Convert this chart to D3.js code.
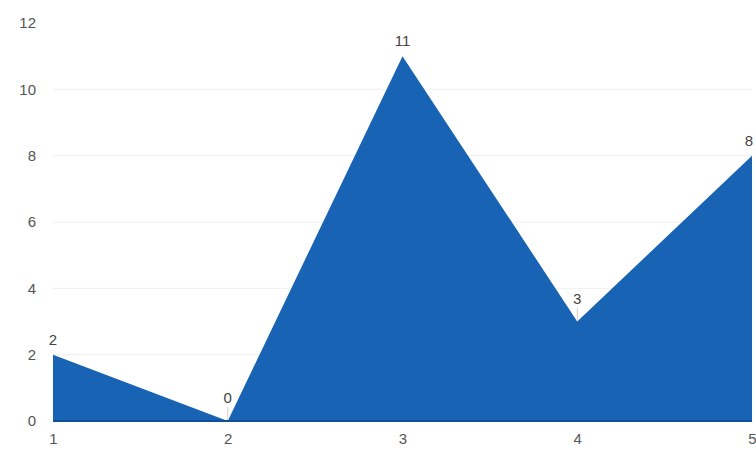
<!DOCTYPE html>
<html>
<head>
<meta charset="utf-8">
<script src="https://cdn.jsdelivr.net/npm/d3@7"></script>
<style>
  html, body { margin: 0; padding: 0; background: #fff; }
  svg { display: block; }
  text { font-family: "Liberation Sans", Arial, sans-serif; }
</style>
</head>
<body>
<svg id="chart" width="756" height="450"></svg>
<script>
// Category labels along the x axis
const categories = ["1", "2", "3", "4", "5"];
// Series values plotted as a filled area
const values = [2, 0, 11, 3, 8];
// Y axis tick values
const yTicks = [0, 2, 4, 6, 8, 10, 12];

const svg = d3.select("#chart");
const W = 756, H = 450;
const margin = { left: 53, right: 4, top: 23, bottom: 29 };

const x = d3.scalePoint()
  .domain(categories)
  .range([margin.left, W - margin.right]);

const y = d3.scaleLinear()
  .domain([0, 12])
  .range([H - margin.bottom, margin.top]);

// Faint horizontal gridlines
svg.append("g")
  .selectAll("line")
  .data(yTicks.filter(d => d > 0 && d < 12))
  .join("line")
  .attr("x1", margin.left)
  .attr("x2", W - margin.right)
  .attr("y1", d => y(d))
  .attr("y2", d => y(d))
  .attr("stroke", "#eeeeee")
  .attr("stroke-width", 1);

// Y axis labels (no axis line)
const yAxis = d3.axisLeft(y).tickValues(yTicks).tickSize(0).tickPadding(17);
svg.append("g")
  .attr("transform", `translate(${margin.left},0)`)
  .call(yAxis)
  .call(g => g.select(".domain").remove())
  .call(g => g.selectAll("text")
    .attr("fill", "#555")
    .attr("font-size", 15)
    .style("font-family", "'Liberation Sans', Arial, sans-serif"));

// X axis labels
const xAxis = d3.axisBottom(x).tickSize(0).tickPadding(12);
svg.append("g")
  .attr("transform", `translate(0,${y(0)})`)
  .call(xAxis)
  .call(g => g.select(".domain").remove())
  .call(g => g.selectAll("text")
    .attr("fill", "#555")
    .attr("font-size", 15)
    .style("font-family", "'Liberation Sans', Arial, sans-serif"));

const pts = categories.map((c, i) => ({ c, v: values[i], i }));

// Filled area
const area = d3.area()
  .x(d => x(d.c))
  .y0(y(0))
  .y1(d => y(d.v));

svg.append("path")
  .datum(pts)
  .attr("d", area)
  .attr("fill", "#1863b4");

// Darker baseline along zero
svg.append("line")
  .attr("x1", x(categories[0]))
  .attr("x2", x(categories[categories.length - 1]))
  .attr("y1", y(0))
  .attr("y2", y(0))
  .attr("stroke", "#0f4f9c")
  .attr("stroke-width", 2);

// Leader ticks for labels sitting in valleys
const isValley = d => (d.i > 0 && d.i < values.length - 1 &&
  d.v < values[d.i - 1] && d.v < values[d.i + 1]);

svg.append("g")
  .selectAll("line")
  .data(pts.filter(isValley))
  .join("line")
  .attr("x1", d => x(d.c))
  .attr("x2", d => x(d.c))
  .attr("y1", d => y(d.v) - 14)
  .attr("y2", d => y(d.v) - 1)
  .attr("stroke", "#e3c8cc")
  .attr("stroke-width", 1);

// Value labels
svg.append("g")
  .selectAll("text")
  .data(pts)
  .join("text")
  .attr("x", d => x(d.c) - (d.i === values.length - 1 ? 3 : 0))
  .attr("y", d => y(d.v) - (isValley(d) ? 18 : 10))
  .attr("text-anchor", "middle")
  .attr("fill", "#444")
  .attr("font-size", 15)
  .text(d => d.v);
</script>
</body>
</html>
